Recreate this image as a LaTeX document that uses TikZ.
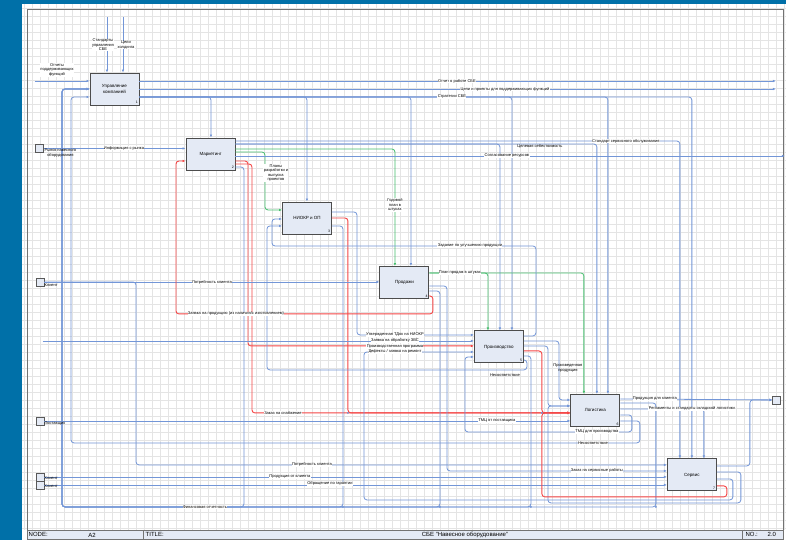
\documentclass[tikz,border=0pt]{standalone}
\usepackage{fontspec}
\setmainfont{Liberation Sans}
\usetikzlibrary{arrows.meta,positioning,calc}
\definecolor{pageblue}{RGB}{0,112,168}
\definecolor{boxfill}{RGB}{228,234,245}
\definecolor{flowblue}{RGB}{115,150,215}
\definecolor{flowred}{RGB}{245,70,70}
\definecolor{flowgreen}{RGB}{70,190,110}
\definecolor{gridgray}{RGB}{228,228,228}
\newcommand{\lblfont}{\fontsize{4}{4.6}\selectfont}

\begin{document}
\begin{tikzpicture}[x=1pt,y=-1pt,>=Latex]
  \tikzstyle{func}=[draw=black!70,line width=0.9pt,fill=boxfill,minimum width=49pt,minimum height=32pt,inner sep=1pt,align=center,font=\fontsize{4.5}{5.2}\selectfont]
  \tikzstyle{idx}=[anchor=south east,font=\fontsize{3.5}{4}\selectfont,inner sep=1.5pt]
  \tikzstyle{tun}=[draw=black!65,fill=boxfill,minimum size=8pt,inner sep=0pt,line width=0.8pt]
  \tikzstyle{lab}=[font=\lblfont,fill=white,inner sep=0.4pt,align=center]
  \tikzstyle{fl}=[draw=flowblue,line width=0.8pt,rounded corners=3pt,-{Latex[length=3pt,width=2.6pt]}]
  \tikzstyle{flr}=[fl,draw=flowred,line width=0.9pt]
  \tikzstyle{flg}=[fl,draw=flowgreen]
  \tikzstyle{foot}=[font=\fontsize{6}{7}\selectfont,inner sep=0.5pt]

  % sheet
  \fill[pageblue] (0,0) rectangle (786,540);
  \fill[white] (22,4) rectangle (786,540);
  \draw[gridgray,line width=0.3pt,step=8pt] (22,4) grid (786,530);
  \fill[boxfill] (27,530) rectangle (784,540);
  \draw[black!55,line width=0.9pt] (27,9) rectangle (784,540);
  \draw[black!55,line width=0.7pt] (27,530) -- (784,530) (143,530) -- (143,540) (742,530) -- (742,540);
  \node[foot,anchor=west] (fNode) at (28,535) {NODE:};
  \node[foot] (fA) at (92,535) {A2};
  \node[foot,anchor=west] (fTitle) at (145,535) {TITLE:};
  \node[foot] (fName) at (465,535) {СБЕ "Навесное оборудование"};
  \node[foot,anchor=west] (fNo) at (745,535) {NO.:};
  \node[foot] (fNum) at (772,535) {2.0};

  % functions
  \node[func] (uk) at (114.5,89) {Управление\\компанией};
  \node[func] (mk) at (210.5,154) {Маркетинг};
  \node[func] (nk) at (307,218) {НИОКР и ОП};
  \node[func] (pr) at (404.5,282.5) {Продажи};
  \node[func] (pd) at (499,347) {Производство};
  \node[func] (lg) at (595.5,410.5) {Логистика};
  \node[func] (sv) at (692,475) {Сервис};
  \foreach \b/\n in {uk/1,mk/2,nk/3,pr/4,pd/5,lg/6,sv/7}
    \node[idx] (n\n) at (\b.south east) {\n};

  % tunnels and free ends
  \node[tun] (rn) at (39.5,148.5) {};
  \node[tun] (kl1) at (40,282) {};
  \node[tun] (ps) at (40,421) {};
  \node[tun] (kl2) at (40,477) {};
  \node[tun] (kl3) at (40,485) {};
  \node[tun] (kl4) at (777,400) {};
  \coordinate (cs) at (107,17);
  \coordinate (ch) at (123,17);
  \coordinate (rep) at (35,81);
  \coordinate (o1) at (776,81);
  \coordinate (o2) at (776,89);
  \coordinate (o3) at (785,156);
  \coordinate (zl) at (43,341);

  % management
  \draw[fl] (cs) -- (uk.north -| cs);
  \draw[fl] (ch) -- (uk.north -| ch);
  \draw[fl] (rep) -- (uk.west |- rep);
  \draw[fl] (uk.east |- o1) -- (o1);
  \draw[fl] (uk.east |- o2) -- (o2);
  \draw[fl] (uk.east |- 0,97) -| (sv.north -| 692,0);
  \foreach \x/\b in {211/mk,307/nk,411/pr,512/pd,608/lg}
    \draw[fl] (uk.east |- 0,97) -| (\b.north -| \x,0);

  % marketing
  \draw[fl] (rn) -- (mk.west |- rn);
  \draw[fl] (mk.east |- 0,141) -| (sv.north -| 680,0);
  \draw[fl] (mk.east |- 0,144) -| (lg.north -| 597,0);
  \draw[fl] (mk.east |- 0,144) -| (pd.north -| 500,0);
  \draw[flg] (mk.east |- 0,149) -| (pr.north -| 395,0);
  \draw[flg] (mk.east |- 0,152) -- (265,152) |- (nk.west |- 0,210);
  \draw[fl] (mk.east |- 0,156) -- (o3);
  \draw[flr] (mk.east |- 0,161) -- (248,161) |- (pd.west |- 0,346);
  \draw[flr] (mk.east |- 0,164) -- (252,164) |- (lg.west |- 0,413);
  \draw[fl] (mk.east |- 0,167) -- (244,167) -- (244,507) -- (62,507) |- (uk.west |- 0,89);

  % r&d
  \draw[fl] (nk.east |- 0,212) -- (357,212) |- (pd.west |- 0,335);
  \draw[flr] (nk.east |- 0,218) -- (348,218) |- (lg.west |- 0,413);
  \draw[fl] (nk.east |- 0,226) -- (343,226) -- (343,507) -- (62,507) |- (uk.west |- 0,89);

  % sales
  \draw[fl] (kl1) -- (pr.west |- kl1);
  \draw[fl] (kl1.east) -- (kl1.east -| 136,0) |- (sv.west |- 0,465);
  \draw[flg] (pr.east |- 0,273) -| (lg.north -| 584,0);
  \draw[flg] (pr.east |- 0,273) -| (pd.north -| 488,0);
  \draw[fl] (pr.east |- 0,286) -- (447,286) |- (sv.west |- 0,471);
  \draw[fl] (pr.east |- 0,291) -- (440,291) -- (440,507) -- (62,507) |- (uk.west |- 0,89);
  \draw[flr] (pr.east |- 0,296) -- (433,296) -- (433,314) -- (176,314) |- (mk.west |- 0,161);

  % production
  \draw[fl] (zl) -- (pd.west |- zl);
  \draw[fl] (pd.east |- 0,336) -- (536,336) -- (536,246) -- (272,246) |- (nk.west |- 0,219);
  \draw[fl] (pd.east |- 0,341) -- (559,341) |- (lg.west |- 0,400);
  \draw[fl] (pd.east |- 0,346) -- (548,346) |- (lg.west |- 0,406);
  \draw[flr] (pd.east |- 0,351) -- (542,351) |- (lg.west |- 0,413);
  \draw[fl] (pd.east |- 0,356) -- (531,356) -- (531,507) -- (62,507) |- (uk.west |- 0,89);
  \draw[fl] (pd.east |- 0,360) -- (527,360) -- (527,370) -- (267,370) |- (nk.west |- 0,226);

  % logistics
  \draw[fl] (ps) -- (lg.west |- ps);
  \draw[fl] (lg.east |- 0,399) -- (kl4.west);
  \draw[fl] (lg.east |- 0,403) -- (656,403) -- (656,507) -- (62,507) |- (uk.west |- 0,89);
  \draw[fl] (lg.east |- 0,409) -| (sv.north -| 704,0);
  \draw[fl] (lg.east |- 0,415) -- (632,415) -- (632,432) -- (465,432) |- (pd.west |- 0,357);
  \draw[fl] (lg.east |- 0,421) -- (640,421) -- (640,443) -- (71,443) |- (uk.west |- 0,97);

  % service
  \draw[fl] (kl2) -- (sv.west |- kl2);
  \draw[fl] (kl3) -- (sv.west |- kl3);
  \draw[fl] (sv.east |- 0,466) -- (750,466) |- (kl4.west);
  \draw[fl] (sv.east |- 0,472) -- (741,472) -- (741,503) -- (548,503) |- (lg.west |- 0,406);
  \draw[fl] (sv.east |- 0,479) -- (733,479) -- (733,500) -- (364,500) |- (pd.west |- 0,352);
  \draw[flr] (sv.east |- 0,486) -- (727,486) -- (727,497) -- (542,497) |- (lg.west |- 0,413);

  % joins
  \foreach \p in {(343,507),(440,507),(531,507),(656,507),(348,413),(542,413)}
    \fill[flowblue] \p circle (1.1pt);

  % labels
  \node[lab] (tStd) at (103,45) {Стандарты\\управления\\СБЕ};
  \node[lab] (tHld) at (126,45) {Цели\\холдинга};
  \node[lab] (tRep) at (57,70) {Отчеты\\поддерживающих\\функций};
  \node[lab] (tOtch) at (457,81) {Отчет о работе СБЕ};
  \node[lab] (tCeli) at (505,89) {Цели и проекты для поддерживающих функций};
  \node[lab] (tStr) at (452,97) {Стратегии СБЕ};
  \node[lab] (tInf) at (124,148) {Информация с рынка};
  \node[lab] (tSt) at (626,141) {Стандарт сервисного обслуживания};
  \node[lab,fill=none] (tCs) at (540,146.5) {Целевая себестоимость};
  \node[lab] (tGod) at (395,205) {Годовой\\план в\\штуках};
  \node[lab] (tPl) at (276,173) {Планы\\разработки и\\выпуска\\проектов};
  \node[lab] (tSogl) at (507,156) {Согласование ресурсов};
  \node[lab] (tZad) at (470,246) {Задание по улучшению продукции};
  \node[lab] (tPotr) at (212,282) {Потребность клиента};
  \node[lab] (tPlan) at (460,273) {План продаж в штуках};
  \node[lab] (tZpr) at (236,314) {Заявка на продукцию (из наличия/с изготовлением)};
  \node[lab] (tUtv) at (395,335) {Утвержденная ТДок на НИОКР};
  \node[lab] (tZvs) at (395,341) {Заявка на обработку ЗВС};
  \node[lab] (tPp) at (395,346.5) {Производственная программа};
  \node[lab] (tRem) at (395,352) {Дефекты / заявка на ремонт};
  \node[lab,fill=none] (tNes1) at (505,375) {Несоответствие};
  \node[lab,fill=none] (tProd) at (568,368) {Произведенная\\продукция};
  \node[lab] (tZs) at (283,413) {Заказ на снабжение};
  \node[lab] (tTmc) at (497,421) {ТМЦ от поставщика};
  \node[lab] (tTmcP) at (597,432) {ТМЦ для производства};
  \node[lab] (tNes2) at (593,443) {Несоответствие};
  \node[lab] (tPk) at (655,399) {Продукция для клиента};
  \node[lab] (tReg) at (692,409) {Регламенты и стандарты складской логистики};
  \node[lab] (tPotr2) at (312,465) {Потребность клиента};
  \node[lab] (tZsr) at (597,471) {Заказ на сервисные работы};
  \node[lab] (tPok) at (290,477) {Продукция от клиента};
  \node[lab] (tObr) at (330,484) {Обращение по гарантии};
  \node[lab] (tFin) at (205,507) {Финансовая отчетность};
  \node[lab,fill=none,anchor=west] (tRn) at (44,153) {Рынок навесного\\оборудования};
  \node[lab,fill=none,anchor=west] (tKl1) at (44,285) {Клиент};
  \node[lab,fill=none,anchor=west] (tPs) at (44,424) {Поставщик};
  \node[lab,fill=none,anchor=west] (tKl2) at (44,478) {Клиент};
  \node[lab,fill=none,anchor=west] (tKl3) at (44,486) {Клиент};
\end{tikzpicture}
\end{document}
